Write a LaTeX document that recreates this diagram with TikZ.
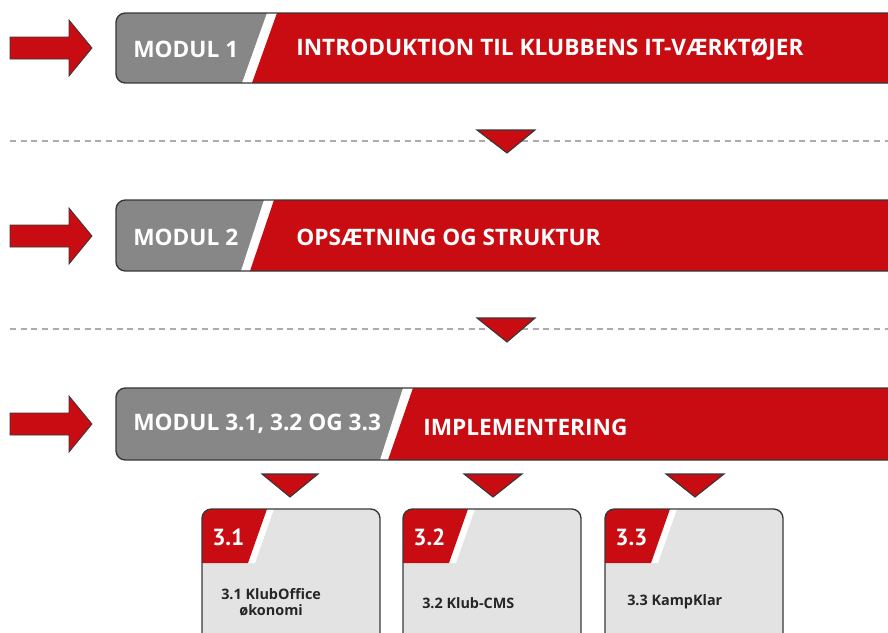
\documentclass[tikz,border=0pt]{standalone}
\usepackage{fontspec}
\setmainfont{Open Sans}
\newfontfamily\tabfont{PT Sans}
\usepackage{xcolor}
\definecolor{klubred}{RGB}{200,12,18}
\definecolor{klubgray}{RGB}{135,135,135}
\definecolor{klubline}{RGB}{55,55,55}
\definecolor{klubbox}{RGB}{227,227,227}
\definecolor{klubdash}{RGB}{172,172,172}

\tikzset{
  modtext/.style={text=white,anchor=west,inner sep=0pt,
    font=\bfseries\fontsize{17}{20}\selectfont},
  tabtext/.style={text=white,anchor=west,inner sep=0pt,
    font=\tabfont\bfseries\fontsize{17.5}{20}\selectfont},
  boxtext/.style={text=black!85,anchor=west,inner sep=0pt,align=center,
    font=\bfseries\fontsize{10.8}{12}\selectfont},
  pil/.style={fill=klubred,draw=klubline,line width=0.6pt},
  trekant/.style={fill=klubred,draw=klubline,line width=0.8pt,line join=miter},
  skille/.style={klubdash,line width=1.1pt,dash pattern=on 4.5pt off 3.5pt},
  kant/.style={draw=klubline,line width=1pt,rounded corners=7pt}
}

\begin{document}
\begin{tikzpicture}[x=0.75pt,y=-0.75pt]
  \clip (0,0) rectangle (888,632);
  \useasboundingbox (0,0) rectangle (888,632);

  % modul 1
  \draw[pil] (10,37) -- (69,37) -- (69,20) -- (92,48) -- (69,76) -- (69,59) -- (10,59) -- cycle;
  \begin{scope}
    \clip[rounded corners=7pt] (116,13) rectangle (910,83);
    \fill[klubgray] (110,13) rectangle (910,83);
    \fill[white] (267,13) -- (910,13) -- (910,83) -- (242,83) -- cycle;
    \fill[klubred] (277,13) -- (910,13) -- (910,83) -- (252,83) -- cycle;
  \end{scope}
  \draw[kant] (116,13) rectangle (910,83);
  \node[modtext] (m1) at (133,49) {MODUL 1};
  \node[modtext] (t1) at (296,49) {INTRODUKTION TIL KLUBBENS IT-VÆRKTØJER};

  \draw[skille] (10,141) -- (888,141);
  \draw[trekant] (477,130) -- (535,130) -- (507,153) -- cycle;

  % modul 2
  \draw[pil] (10,225) -- (69,225) -- (69,208) -- (92,236) -- (69,264) -- (69,247) -- (10,247) -- cycle;
  \begin{scope}
    \clip[rounded corners=7pt] (116,200) rectangle (910,271);
    \fill[klubgray] (110,200) rectangle (910,271);
    \fill[white] (264,200) -- (910,200) -- (910,271) -- (241,271) -- cycle;
    \fill[klubred] (274,200) -- (910,200) -- (910,271) -- (250,271) -- cycle;
  \end{scope}
  \draw[kant] (116,200) rectangle (910,271);
  \node[modtext] (m2) at (133,237) {MODUL 2};
  \node[modtext] (t2) at (296,237) {OPSÆTNING OG STRUKTUR};

  \draw[skille] (10,329) -- (888,329);
  \draw[trekant] (477,318) -- (535,318) -- (507,342) -- cycle;

  % modul 3
  \draw[pil] (10,413) -- (69,413) -- (69,396) -- (92,424) -- (69,452) -- (69,435) -- (10,435) -- cycle;
  \begin{scope}
    \clip[rounded corners=7pt] (116,388) rectangle (910,460);
    \fill[klubgray] (110,388) rectangle (910,460);
    \fill[white] (403,388) -- (910,388) -- (910,460) -- (380,460) -- cycle;
    \fill[klubred] (413,388) -- (910,388) -- (910,460) -- (388,460) -- cycle;
  \end{scope}
  \draw[kant] (116,388) rectangle (910,460);
  \node[modtext] (m3) at (133,424) {MODUL 3.1, 3.2 OG 3.3};
  \node[modtext] (t3) at (423,427) {IMPLEMENTERING};

  % delmoduler
  \draw[trekant] (262,474) -- (318,474) -- (290,497) -- cycle;
  \draw[trekant] (464,474) -- (522,474) -- (493,497) -- cycle;
  \draw[trekant] (666,474) -- (724,474) -- (695,497) -- cycle;

  \begin{scope}
    \clip[rounded corners=7pt] (202,509) rectangle (380,660);
    \fill[klubbox] (202,509) rectangle (380,660);
    \fill[white] (202,509) -- (274,509) -- (255,563) -- (202,563) -- cycle;
    \fill[klubred] (202,509) -- (267,509) -- (248,563) -- (202,563) -- cycle;
  \end{scope}
  \draw[kant] (202,509) rectangle (380,660);
  \node[tabtext] (n1) at (212,537) {3.1};
  \node[boxtext] (d1) at (221,602) {3.1 KlubOffice\\økonomi};

  \begin{scope}
    \clip[rounded corners=7pt] (403,509) rectangle (581,660);
    \fill[klubbox] (403,509) rectangle (581,660);
    \fill[white] (403,509) -- (475,509) -- (456,563) -- (403,563) -- cycle;
    \fill[klubred] (403,509) -- (468,509) -- (449,563) -- (403,563) -- cycle;
  \end{scope}
  \draw[kant] (403,509) rectangle (581,660);
  \node[tabtext] (n2) at (413,537) {3.2};
  \node[boxtext] (d2) at (422,603) {3.2 Klub-CMS};

  \begin{scope}
    \clip[rounded corners=7pt] (605,509) rectangle (783,660);
    \fill[klubbox] (605,509) rectangle (783,660);
    \fill[white] (605,509) -- (677,509) -- (658,563) -- (605,563) -- cycle;
    \fill[klubred] (605,509) -- (670,509) -- (651,563) -- (605,563) -- cycle;
  \end{scope}
  \draw[kant] (605,509) rectangle (783,660);
  \node[tabtext] (n3) at (615,537) {3.3};
  \node[boxtext] (d3) at (627,602) {3.3 KampKlar};
\end{tikzpicture}
\end{document}
